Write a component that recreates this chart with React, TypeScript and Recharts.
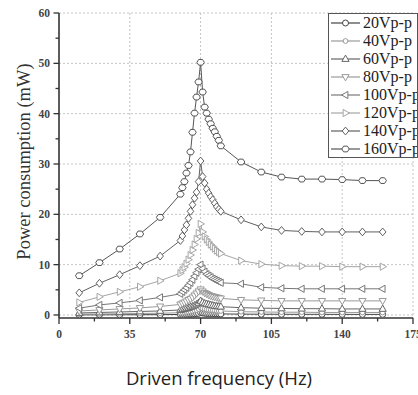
import React from 'react';
import { CartesianGrid, Line, LineChart, XAxis, YAxis } from 'recharts';

// Driving frequency (Hz) of every measured point
const freq = [10, 20, 30, 40, 50, 60, 61, 62, 63, 64, 65, 66, 67, 68, 69, 70, 71, 72, 73, 74, 75, 76, 77, 78, 79, 80, 90, 100, 110, 120, 130, 140, 150, 160];

// Power consumption (mW), one list per drive voltage
const v20 = [0.02, 0.03, 0.04, 0.05, 0.07, 0.1, 0.11, 0.12, 0.13, 0.15, 0.17, 0.2, 0.23, 0.27, 0.32, 0.5, 0.4, 0.35, 0.3, 0.28, 0.26, 0.25, 0.24, 0.23, 0.22, 0.21, 0.17, 0.15, 0.14, 0.13, 0.13, 0.12, 0.12, 0.12];
const v40 = [0.15, 0.2, 0.25, 0.3, 0.35, 0.45, 0.5, 0.55, 0.6, 0.65, 0.7, 0.8, 0.9, 1.0, 1.2, 1.5, 1.3, 1.2, 1.1, 1.05, 1.0, 0.95, 0.9, 0.85, 0.82, 0.8, 0.65, 0.6, 0.55, 0.55, 0.5, 0.5, 0.5, 0.5];
const v60 = [0.4, 0.5, 0.6, 0.7, 0.8, 1.0, 1.1, 1.2, 1.3, 1.4, 1.6, 1.7, 1.9, 2.1, 2.4, 2.8, 2.5, 2.3, 2.2, 2.1, 2.0, 1.9, 1.8, 1.75, 1.7, 1.65, 1.45, 1.35, 1.3, 1.25, 1.25, 1.2, 1.2, 1.2];
const v80 = [0.8, 1.0, 1.2, 1.4, 1.7, 2.1, 2.3, 2.5, 2.7, 3.0, 3.2, 3.5, 3.9, 4.3, 4.7, 5.1, 4.7, 4.4, 4.2, 4.0, 3.8, 3.7, 3.6, 3.5, 3.4, 3.3, 3.0, 2.9, 2.8, 2.8, 2.8, 2.8, 2.8, 2.8];
const v100 = [1.35, 2.0, 2.4, 2.9, 3.5, 4.2, 4.6, 5.0, 5.4, 5.9, 6.4, 7.0, 7.7, 8.4, 9.1, 10.0, 9.2, 8.6, 8.1, 7.8, 7.5, 7.2, 7.0, 6.8, 6.6, 6.4, 6.2, 5.5, 5.3, 5.2, 5.2, 5.2, 5.2, 5.2];
const v120 = [2.5, 3.6, 4.6, 5.6, 6.8, 8.3, 8.9, 9.5, 10.2, 11.0, 11.9, 12.9, 14.0, 15.1, 16.3, 18.1, 16.5, 15.6, 15.0, 14.5, 14.0, 13.6, 13.2, 12.8, 12.5, 12.2, 10.8, 10.1, 9.8, 9.7, 9.7, 9.6, 9.6, 9.6];
const v140 = [4.4, 6.3, 8.0, 9.8, 11.7, 14.8, 15.7, 16.9, 17.9, 19.2, 20.6, 21.9, 23.2, 24.4, 26.5, 30.6, 27.5, 26.2, 25.0, 24.2, 23.5, 22.9, 22.2, 21.5, 21.0, 20.6, 18.9, 17.5, 16.8, 16.6, 16.5, 16.5, 16.5, 16.5];
const v160 = [7.8, 10.4, 13.1, 16.1, 19.4, 24.0, 25.3, 26.5, 28.2, 29.7, 32.4, 36.3, 40.1, 43.3, 46.3, 50.2, 44.3, 41.3, 40.1, 38.9, 38.0, 37.1, 36.4, 35.5, 34.7, 33.6, 30.4, 28.4, 27.4, 27.0, 27.0, 26.9, 26.7, 26.7];

const xTicks = [0, 17.5, 35, 52.5, 70, 87.5, 105, 122.5, 140, 157.5, 175];
const xMajor = [0, 35, 70, 105, 140, 175];
const yTicks = [0, 5, 10, 15, 20, 25, 30, 35, 40, 45, 50, 55, 60];
const yMajor = [0, 10, 20, 30, 40, 50, 60];

const data = freq.map((f, i) => ({
  f,
  v20: v20[i], v40: v40[i], v60: v60[i], v80: v80[i],
  v100: v100[i], v120: v120[i], v140: v140[i], v160: v160[i],
}));

type Shape = 'circle' | 'small' | 'up' | 'down' | 'left' | 'right' | 'diamond' | 'hex';

const SERIES: { key: string; name: string; color: string; shape: Shape }[] = [
  { key: 'v20', name: '20Vp-p', color: '#444', shape: 'circle' },
  { key: 'v40', name: '40Vp-p', color: '#999', shape: 'small' },
  { key: 'v60', name: '60Vp-p', color: '#666', shape: 'up' },
  { key: 'v80', name: '80Vp-p', color: '#9a9a9a', shape: 'down' },
  { key: 'v100', name: '100Vp-p', color: '#777', shape: 'left' },
  { key: 'v120', name: '120Vp-p', color: '#a5a5a5', shape: 'right' },
  { key: 'v140', name: '140Vp-p', color: '#606060', shape: 'diamond' },
  { key: 'v160', name: '160Vp-p', color: '#555', shape: 'hex' },
];

const SERIF = '"Liberation Serif", "DejaVu Serif", serif';
const AXIS = '#333';
const GRID = '#c4c4c4';

function Mark({ shape, cx, cy, color }: { shape: Shape; cx: number; cy: number; color: string }) {
  const r = 3;
  const common = { fill: '#fff', stroke: color, strokeWidth: 1 };
  const poly = (pts: number[][]) => <polygon points={pts.map((p) => p.join(',')).join(' ')} {...common} />;
  switch (shape) {
    case 'circle': return <circle cx={cx} cy={cy} r={r} {...common} />;
    case 'small': return <circle cx={cx} cy={cy} r={2.4} {...common} />;
    case 'up': return poly([[cx, cy - r * 1.3], [cx - r * 1.2, cy + r * 0.8], [cx + r * 1.2, cy + r * 0.8]]);
    case 'down': return poly([[cx, cy + r * 1.3], [cx - r * 1.2, cy - r * 0.8], [cx + r * 1.2, cy - r * 0.8]]);
    case 'left': return poly([[cx - r * 1.3, cy], [cx + r * 0.8, cy - r * 1.2], [cx + r * 0.8, cy + r * 1.2]]);
    case 'right': return poly([[cx + r * 1.3, cy], [cx - r * 0.8, cy - r * 1.2], [cx - r * 0.8, cy + r * 1.2]]);
    case 'diamond': return poly([[cx, cy - r * 1.3], [cx + r * 1.1, cy], [cx, cy + r * 1.3], [cx - r * 1.1, cy]]);
    case 'hex':
      return poly([0, 60, 120, 180, 240, 300].map((a) => {
        const t = (a * Math.PI) / 180;
        return [cx + r * 1.25 * Math.cos(t), cy + r * 1.1 * Math.sin(t)];
      }));
  }
}

function XTick(props: any) {
  const { x, y, payload } = props;
  const major = xMajor.includes(payload.value);
  return (
    <g>
      <line x1={x} y1={y} x2={x} y2={y + (major ? 6 : 3.5)} stroke={AXIS} strokeWidth={1.3} />
      {major && (
        <text x={x} y={y + 20} textAnchor="middle" fontFamily={SERIF} fontSize={11.5} fontWeight="bold" fill="#444">
          {payload.value}
        </text>
      )}
    </g>
  );
}

function YTick(props: any) {
  const { x, y, payload } = props;
  const major = yMajor.includes(payload.value);
  return (
    <g>
      <line x1={x} y1={y} x2={x - (major ? 5.5 : 3.5)} y2={y} stroke={AXIS} strokeWidth={1.3} />
      {major && (
        <text x={x - 9} y={y + 4} textAnchor="end" fontFamily={SERIF} fontSize={11.5} fontWeight="bold" fill="#444">
          {payload.value}
        </text>
      )}
    </g>
  );
}

function Legend() {
  return (
    <div
      style={{
        position: 'absolute', left: 328, top: 13, width: 88, height: 143,
        border: '1.5px solid #555', background: '#fff', overflow: 'hidden',
        fontFamily: SERIF, fontSize: 16, color: '#222',
      }}
    >
      {SERIES.map((s) => (
        <div key={s.key} style={{ display: 'flex', alignItems: 'center', height: 18, whiteSpace: 'nowrap' }}>
          <svg width={32} height={18} style={{ flex: 'none' }}>
            <line x1={2} y1={9} x2={31} y2={9} stroke={s.color} strokeWidth={1.2} />
            <Mark shape={s.shape} cx={16.5} cy={9} color={s.color} />
          </svg>
          <span style={{ marginLeft: 2 }}>{s.name}</span>
        </div>
      ))}
    </div>
  );
}

export default function App() {
  return (
    <div style={{ position: 'absolute', left: 0, top: 0, width: 418, height: 395, background: '#fff' }}>
      <LineChart width={418} height={395} data={data} margin={{ top: 13, right: 5, left: 0, bottom: 0 }}>
        <CartesianGrid
          stroke={GRID}
          strokeDasharray="2 2"
          horizontalValues={yMajor}
          verticalValues={[35, 70, 105, 140, 175]}
        />
        <XAxis
          dataKey="f"
          type="number"
          domain={[0, 175]}
          ticks={xTicks}
          interval={0}
          height={77}
          tickSize={0}
          tickMargin={0}
          tickLine={false}
          axisLine={{ stroke: AXIS, strokeWidth: 1.6 }}
          tick={<XTick />}
          label={{
            content: ({ viewBox }: any) => (
              <text
                x={219}
                y={viewBox.y + 67}
                textAnchor="middle"
                fontFamily='"Open Sans", "Noto Sans", sans-serif'
                fontSize={18.5}
                fill="#222"
              >
                Driven frequency (Hz)
              </text>
            ),
          }}
        />
        <YAxis
          type="number"
          domain={[-0.6, 60]}
          ticks={yTicks}
          interval={0}
          width={59}
          tickSize={0}
          tickMargin={0}
          tickLine={false}
          axisLine={{ stroke: AXIS, strokeWidth: 1.6 }}
          tick={<YTick />}
          label={{
            content: ({ viewBox }: any) => {
              const cx = 24;
              const cy = viewBox.y + viewBox.height / 2 - 4;
              return (
                <text
                  x={cx}
                  y={cy}
                  transform={`rotate(-90 ${cx} ${cy})`}
                  textAnchor="middle"
                  dominantBaseline="central"
                  fontFamily={SERIF}
                  fontSize={18.5}
                  fill="#333"
                >
                  Power consumption (mW)
                </text>
              );
            },
          }}
        />
        {SERIES.map((s) => (
          <Line
            key={s.key}
            dataKey={s.key}
            name={s.name}
            type="linear"
            stroke={s.color}
            strokeWidth={1}
            isAnimationActive={false}
            dot={(p: any) => (
              <g key={`${s.key}-${p.index}`}>
                <Mark shape={s.shape} cx={p.cx} cy={p.cy} color={s.color} />
              </g>
            )}
            activeDot={false}
          />
        ))}
      </LineChart>
      <Legend />
    </div>
  );
}
